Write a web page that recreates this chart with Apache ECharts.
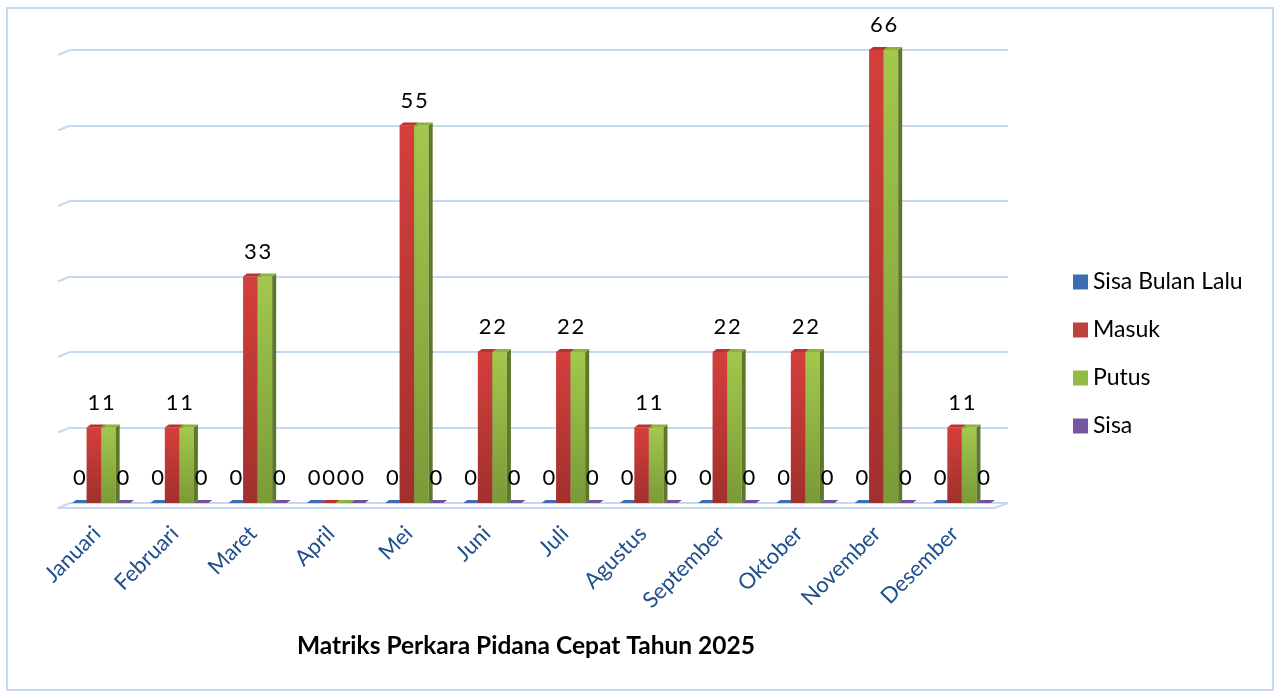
<!DOCTYPE html>
<html>
<head>
<meta charset="utf-8">
<script src="https://cdn.jsdelivr.net/npm/echarts@6/dist/echarts.min.js"></script>
<style>
  html,body{margin:0;padding:0;background:#fff;}
  #main{width:1278px;height:693px;}
</style>
</head>
<body>
<div id="main"></div>
<script>
var months = ['Januari','Februari','Maret','April','Mei','Juni','Juli','Agustus','September','Oktober','November','Desember'];
var sisaBulanLalu = [0,0,0,0,0,0,0,0,0,0,0,0];
var masuk = [1,1,3,0,5,2,2,1,2,2,6,1];
var putus = [1,1,3,0,5,2,2,1,2,2,6,1];
var sisa = [0,0,0,0,0,0,0,0,0,0,0,0];
var yTicks = [0,1,2,3,4,5,6];

var FONT = 'Lato, "Open Sans", sans-serif';
var LINE = '#c6d9f1';

var myChart = echarts.init(document.getElementById('main'));

// one bar slot of a 3d column group
function bar3d(slot, c){
    return function(params, api){
        var cat = api.value(0), v = api.value(1);
        var base = api.coord([cat, 0]);
        var top = api.coord([cat, v]);
        var bw = api.size([1, 0])[0] * 0.186;
        var x0 = base[0] + (slot - 2) * bw;
        var yB = base[1], yT = top[1];
        var d = 4, dy = 3;
        var kids = [];
        if (yB - yT > 0.5) {
            kids.push({type:'rect', shape:{x:x0, y:yT, width:bw, height:yB - yT},
                style:{fill:new echarts.graphic.LinearGradient(0,0,0,1,[{offset:0,color:c.f1},{offset:1,color:c.f2}])}});
            kids.push({type:'polygon', shape:{points:[[x0+bw,yT],[x0+bw+d,yT-dy],[x0+bw+d,yB-dy],[x0+bw,yB]]},
                style:{fill:c.side}});
        }
        kids.push({type:'polygon', shape:{points:[[x0,yT],[x0+bw,yT],[x0+bw+d,yT-dy],[x0+d,yT-dy]]},
            style:{fill:c.top}});
        kids.push({type:'text', style:{text:String(v), x:x0 + bw/2, y:yT - 25, align:'center', verticalAlign:'middle',
            font:'22px ' + FONT, fill:'#000'}});
        return {type:'group', children:kids};
    };
}

function toData(arr){
    return arr.map(function(v, i){ return [i, v]; });
}

var cols = {
    blue:{f1:'#4a7cc0', f2:'#2f5f9e', side:'#2a4f85', top:'#3d6db2'},
    red:{f1:'#d43f3c', f2:'#a1302d', side:'#7e2321', top:'#b9322f'},
    green:{f1:'#a2c84d', f2:'#7a9a37', side:'#5e782a', top:'#8cb23f'},
    purple:{f1:'#8a6bb0', f2:'#664a8c', side:'#4f3870', top:'#6f5298'}
};

var option = {
    animation:false,
    graphic:[{type:'rect', shape:{x:7, y:8, width:1266, height:682}, style:{fill:'none', stroke:LINE, lineWidth:2}}],
    title:{
        text:'Matriks Perkara Pidana Cepat Tahun 2025',
        left:292, top:629,
        textStyle:{fontFamily:FONT, fontWeight:'bold', fontSize:24.5, color:'#000'}
    },
    legend:{
        orient:'vertical', left:1068, top:265,
        itemWidth:15, itemHeight:15, itemGap:24,
        icon:'rect',
        textStyle:{fontFamily:FONT, fontSize:23, lineHeight:24, color:'#000'},
        data:['Sisa Bulan Lalu','Masuk','Putus','Sisa']
    },
    grid:[
        {left:70, right:270, top:50, bottom:190},   // back wall
        {left:58, right:284, top:55, bottom:185},   // front floor edge
        {left:62, right:277, top:50, bottom:190}    // columns
    ],
    xAxis:[
        {gridIndex:0, type:'category', data:months, show:false},
        {gridIndex:1, type:'category', data:months,
            axisLine:{lineStyle:{color:LINE, width:2}},
            axisTick:{length:7, lineStyle:{color:LINE, width:2}},
            axisLabel:{rotate:45, fontFamily:FONT, fontSize:22, color:'#1f4e8c', margin:22}},
        {gridIndex:2, type:'category', data:months, show:false}
    ],
    yAxis:[
        {gridIndex:0, min:0, max:6, interval:1, axisLine:{show:false}, axisTick:{show:false}, axisLabel:{show:false},
            splitLine:{lineStyle:{color:LINE, width:2}}},
        {gridIndex:1, min:0, max:6, interval:1, show:false},
        {gridIndex:2, min:0, max:6, interval:1, show:false}
    ],
    series:[
        {   // slanted stubs of the gridlines and floor edge
            type:'custom', xAxisIndex:0, yAxisIndex:0, silent:true,
            data:yTicks.map(function(v){ return [0, v]; }),
            renderItem:function(params, api){
                var cs = params.coordSys;
                var y = api.coord([0, api.value(1)])[1];
                var kids = [{type:'line', shape:{x1:cs.x - 12, y1:y + 5, x2:cs.x, y2:y}, style:{stroke:LINE, lineWidth:2}}];
                if (api.value(1) === 0) {
                    kids.push({type:'line', shape:{x1:cs.x + cs.width - 14, y1:y + 5, x2:cs.x + cs.width, y2:y}, style:{stroke:LINE, lineWidth:2}});
                }
                return {type:'group', children:kids};
            }
        },
        {name:'Sisa Bulan Lalu', type:'custom', xAxisIndex:2, yAxisIndex:2, itemStyle:{color:'#3d6db2'},
            data:toData(sisaBulanLalu), renderItem:bar3d(0, cols.blue)},
        {name:'Masuk', type:'custom', xAxisIndex:2, yAxisIndex:2, itemStyle:{color:'#c0403c'},
            data:toData(masuk), renderItem:bar3d(1, cols.red)},
        {name:'Putus', type:'custom', xAxisIndex:2, yAxisIndex:2, itemStyle:{color:'#92bb45'},
            data:toData(putus), renderItem:bar3d(2, cols.green)},
        {name:'Sisa', type:'custom', xAxisIndex:2, yAxisIndex:2, itemStyle:{color:'#7556a0'},
            data:toData(sisa), renderItem:bar3d(3, cols.purple)}
    ]
};
myChart.setOption(option);
</script>
</body>
</html>
